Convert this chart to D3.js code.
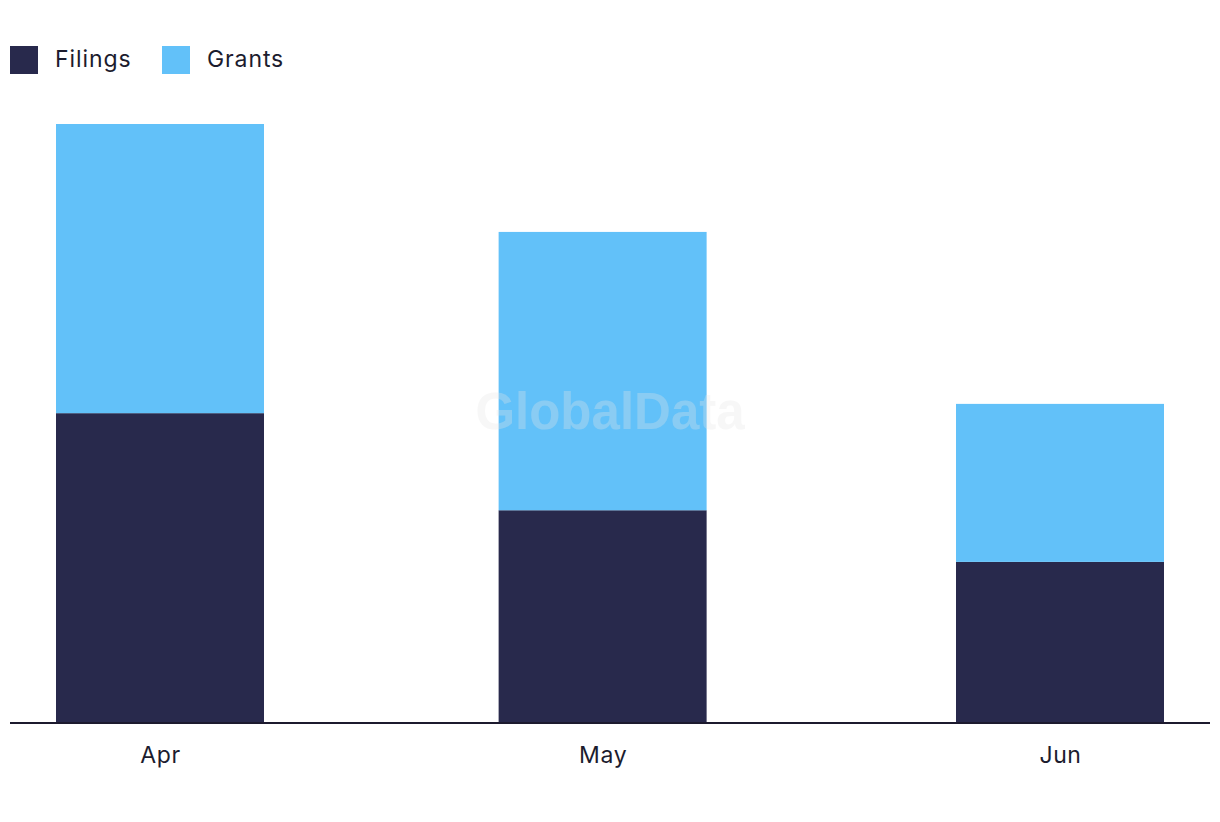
<!DOCTYPE html>
<html>
<head>
<meta charset="utf-8">
<script src="https://cdn.jsdelivr.net/npm/d3@7"></script>
<style>
  body { margin: 0; background: #fff; }
  text { font-family: Inter, "Noto Sans", sans-serif; }
</style>
</head>
<body>
<div id="chart"></div>
<script>
// data
const months = ['2024-04-01', '2024-05-01', '2024-06-01'];
const monthLabels = ['Apr', 'May', 'Jun'];
const filings = [60, 41.2, 31.2];
const grants = [56, 53.9, 30.6];
const seriesNames = ['Filings', 'Grants'];
const seriesColors = ['#28294c', '#62c1f9'];

const width = 1220, height = 822;
const baseY = 723, topY = 124;
const barW = 208;

const svg = d3.select('#chart').append('svg')
  .attr('width', width)
  .attr('height', height);

const parse = d3.timeParse('%Y-%m-%d');
const dates = months.map(parse);

const x = d3.scaleTime()
  .domain([dates[0], dates[2]])
  .range([160, 1060]);

const totals = filings.map((f, i) => f + grants[i]);
const y = d3.scaleLinear()
  .domain([0, d3.max(totals)])
  .range([baseY, topY]);

const rows = dates.map((d, i) => ({ date: d, Filings: filings[i], Grants: grants[i] }));
const stack = d3.stack().keys(seriesNames)(rows);

const layers = svg.append('g').attr('class', 'bars')
  .selectAll('g')
  .data(stack)
  .enter().append('g')
  .style('fill', (d, i) => seriesColors[i]);

layers.selectAll('rect')
  .data(d => d)
  .enter().append('rect')
  .attr('x', d => x(d.data.date) - barW / 2)
  .attr('width', barW)
  .attr('y', d => y(d[1]))
  .attr('height', d => y(d[0]) - y(d[1]));

// watermark
svg.append('text')
  .attr('x', 610)
  .attr('y', 429)
  .attr('text-anchor', 'middle')
  .style('font-family', '"Liberation Sans", Arial, sans-serif')
  .style('font-weight', 'bold')
  .style('font-size', '51px')
  .style('fill', '#e6e6e6')
  .style('opacity', 0.3)
  .text('GlobalData');

// x axis
const xAxis = svg.append('g')
  .attr('transform', 'translate(0,' + baseY + ')')
  .call(d3.axisBottom(x)
    .tickValues(dates)
    .tickSize(0)
    .tickPadding(24)
    .tickFormat((d, i) => monthLabels[i]));
xAxis.select('.domain').remove();
xAxis.selectAll('text')
  .style('font-family', 'Inter, "Noto Sans", sans-serif')
  .style('font-size', '23px')
  .style('letter-spacing', '0.6px')
  .style('fill', '#1c1c2e');

svg.append('line')
  .attr('x1', 10).attr('x2', 1210)
  .attr('y1', baseY).attr('y2', baseY)
  .style('stroke', '#1c1a2e')
  .style('stroke-width', 2);

// legend
const legend = svg.append('g').attr('class', 'legend');
const legX = [10, 162];
seriesNames.forEach((name, i) => {
  legend.append('rect')
    .attr('x', legX[i]).attr('y', 46)
    .attr('width', 28).attr('height', 28)
    .style('fill', seriesColors[i]);
  legend.append('text')
    .attr('x', legX[i] + 45).attr('y', 67)
    .style('font-size', '23px')
    .style('letter-spacing', '0.9px')
    .style('fill', '#1c1c2e')
    .text(name);
});
</script>
</body>
</html>
